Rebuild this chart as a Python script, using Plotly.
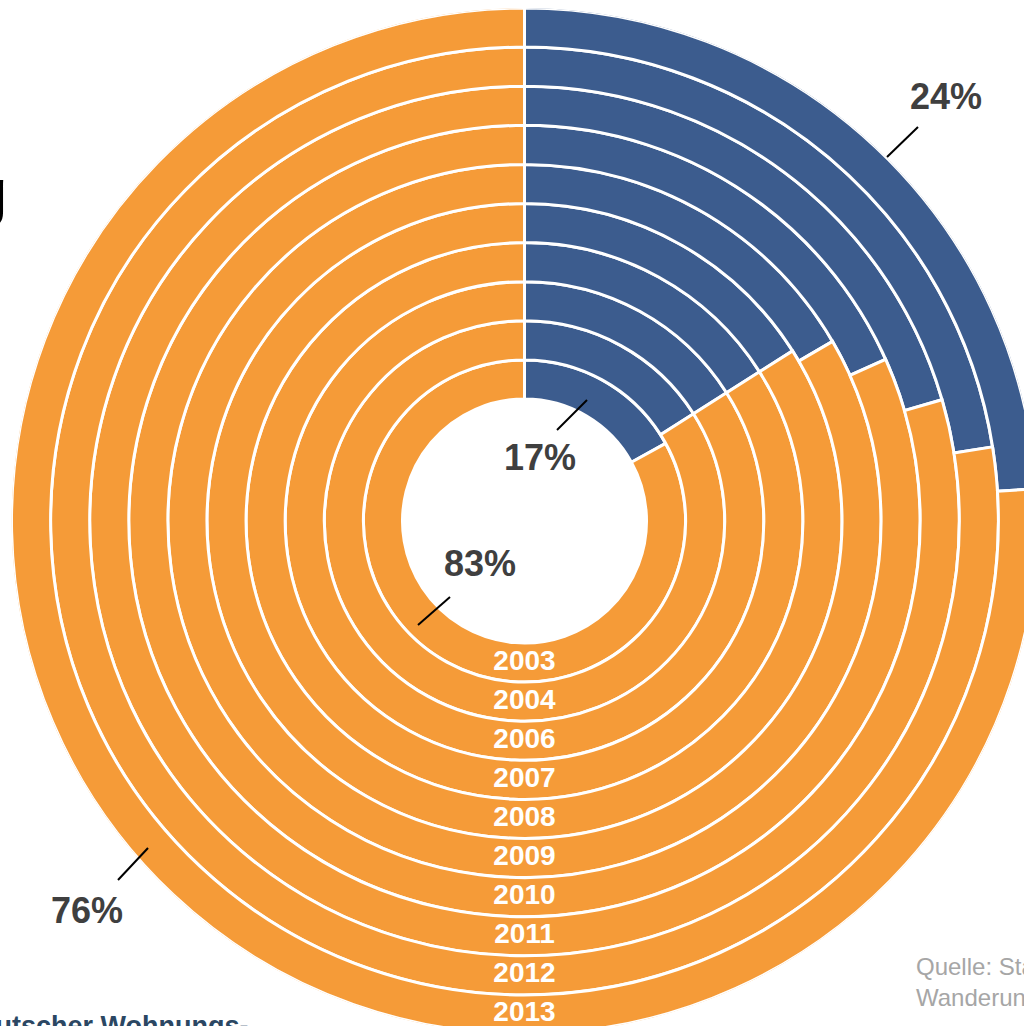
import plotly.graph_objects as go

# ---------------- data ----------------
years = ["2003", "2004", "2006", "2007", "2008", "2009", "2010", "2011", "2012", "2013"]
blue_pct = [17, 16, 16, 16, 16, 16.6, 18.3, 20.5, 22.5, 24]
orange_pct = [100 - v for v in blue_pct]

BLUE = "#3c5c8e"
ORANGE = "#f59b38"

# ---------------- geometry (page pixels) ----------------
W, H = 1040, 1044
BODY = 0                      # body margin removed via post_script below
CX, CY = 524.5, 521.0         # ring centre on the page
R = 513.0                     # outer radius
HOLE_PX = 122.0
RING_PX = (R - HOLE_PX) / len(years)
hole_units = HOLE_PX / RING_PX


def px(x):
    return (x - BODY) / W


def py(y):
    return 1 - (y - BODY) / H


n = len(years)
bases = [hole_units + i for i in range(n)]

blue_deg = [v * 3.6 for v in blue_pct]
orange_deg = [v * 3.6 for v in orange_pct]

fig = go.Figure()
fig.add_trace(go.Barpolar(
    r=[1] * n, base=bases,
    theta=[d / 2 for d in blue_deg], width=blue_deg,
    marker=dict(color=BLUE, line=dict(color="white", width=3)),
    hoverinfo="skip", showlegend=False,
))
fig.add_trace(go.Barpolar(
    r=[1] * n, base=bases,
    theta=[b + o / 2 for b, o in zip(blue_deg, orange_deg)], width=orange_deg,
    marker=dict(color=ORANGE, line=dict(color="white", width=3)),
    hoverinfo="skip", showlegend=False,
))
fig.add_trace(go.Scatterpolar(
    r=[b + 0.5 for b in bases], theta=[180] * n, mode="text", text=years,
    textfont=dict(family="Liberation Sans, Arial", size=28, color="white", weight="bold"),
    hoverinfo="skip", showlegend=False,
))

fig.update_layout(
    width=W, height=H,
    margin=dict(l=0, r=0, t=0, b=0),
    paper_bgcolor="white", plot_bgcolor="white",
    barmode="overlay",
    polar=dict(
        domain=dict(x=[px(CX - R), px(CX + R)], y=[py(CY + R), py(CY - R)]),
        bgcolor="rgba(0,0,0,0)",
        hole=0,
        radialaxis=dict(range=[0, hole_units + n], visible=False),
        angularaxis=dict(direction="clockwise", rotation=90, visible=False),
    ),
)

lab_font = dict(family="Liberation Sans, Arial", size=36, color="#3f3f3f", weight="bold")
labels = [("17%", 540, 457), ("83%", 480, 563), ("24%", 946, 96), ("76%", 87, 910)]
for t, x, y in labels:
    fig.add_annotation(text=t, x=px(x), y=py(y), xref="paper", yref="paper",
                       showarrow=False, font=lab_font, xanchor="center", yanchor="middle")

leaders = [(557, 430, 587, 400), (418, 625, 450, 597), (887, 157, 918, 127), (118, 880, 148, 848)]
for x0, y0, x1, y1 in leaders:
    fig.add_shape(type="line", xref="paper", yref="paper",
                  x0=px(x0), y0=py(y0), x1=px(x1), y1=py(y1),
                  line=dict(color="black", width=2))

# partially visible surrounding texts
fig.add_annotation(text="Zuwanderung", x=px(9), y=py(192), xref="paper", yref="paper",
                   showarrow=False, xanchor="right", yanchor="middle",
                   font=dict(family="Liberation Sans, Arial", size=64, color="black"))
fig.add_annotation(text="Deutscher Wohnungs-", x=px(251), y=py(1026), xref="paper", yref="paper",
                   showarrow=False, xanchor="right", yanchor="middle",
                   font=dict(family="Liberation Sans, Arial", size=27, color="#2b4763", weight="bold"))
fig.add_annotation(text="Quelle: Statistisches Bundesamt,<br>Wanderungsstatistik", x=px(914), y=py(951),
                   xref="paper", yref="paper", showarrow=False, xanchor="left", yanchor="top",
                   align="left",
                   font=dict(family="Liberation Sans, Arial", size=24, color="#a6a6a6"))

fig.write_html(
    "out.html",
    config={"displayModeBar": False},
    post_script="document.documentElement.style.overflow='hidden';"
                "document.body.style.overflow='hidden';document.body.style.margin='0';",
)
